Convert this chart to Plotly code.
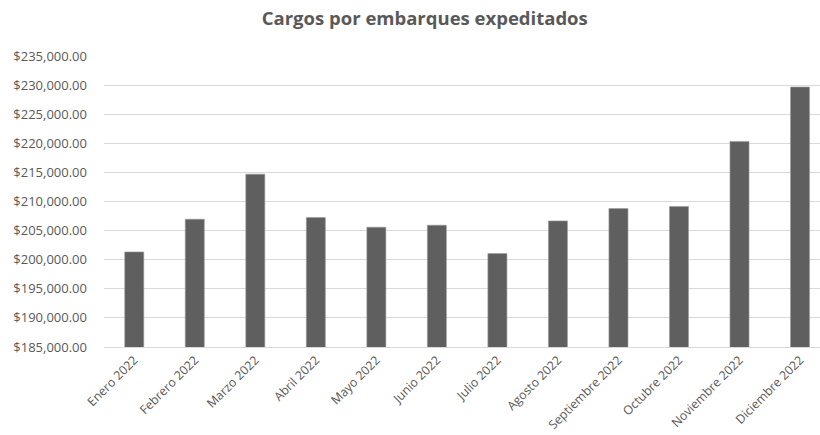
import plotly.graph_objects as go

# Monthly expedited-shipment charges, 2022
meses = ["Enero 2022", "Febrero 2022", "Marzo 2022", "Abril 2022", "Mayo 2022",
         "Junio 2022", "Julio 2022", "Agosto 2022", "Septiembre 2022",
         "Octubre 2022", "Noviembre 2022", "Diciembre 2022"]
cargos = [201340, 206960, 214700, 207260, 205590, 205930,
          201060, 206670, 208800, 209150, 220330, 229670]

texto = "#595959"
fuente = "Open Sans, Liberation Sans, sans-serif"

fig = go.Figure(go.Bar(
    x=meses,
    y=cargos,
    width=0.315,
    marker=dict(color="#5f5f5f", line=dict(color="#9e9e9e", width=0.6)),
    hovertemplate="%{x}: %{y:$,.2f}<extra></extra>",
))

fig.update_layout(
    width=820,
    height=435,
    margin=dict(l=104, r=0, t=56, b=88),
    paper_bgcolor="white",
    plot_bgcolor="white",
    showlegend=False,
    title=dict(
        text="<b>Cargos por embarques expeditados</b>",
        x=0.518, xanchor="center",
        y=0.958, yanchor="middle",
        font=dict(family=fuente, size=18.5, color=texto),
    ),
    font=dict(family=fuente, color=texto),
)

fig.update_xaxes(
    type="category",
    range=[-0.5, 11.33],
    tickangle=-45,
    tickfont=dict(size=12.3, color=texto),
    showgrid=False,
    showline=True,
    linecolor="#d9d9d9",
    linewidth=1,
    ticks="",
    automargin=False,
    fixedrange=True,
)

fig.update_yaxes(
    range=[185000, 235000],
    dtick=5000,
    tick0=185000,
    tickformat="$,.2f",
    tickfont=dict(size=13, color=texto),
    showgrid=True,
    gridcolor="#d9d9d9",
    gridwidth=1,
    zeroline=False,
    ticks="",
    ticklabelstandoff=16,
    automargin=False,
    fixedrange=True,
)

fig.write_html("out.html")
